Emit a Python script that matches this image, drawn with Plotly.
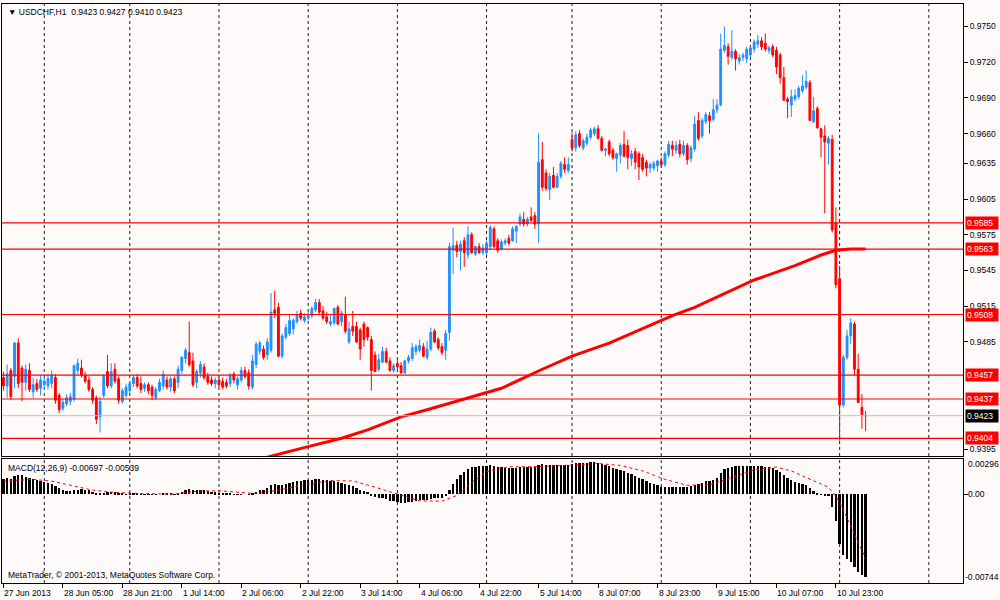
import plotly.graph_objects as go

# USDCHF H1, 27 Jun 2013 13:00 .. 11 Jul 2013 07:00 (bar index 0..232)
opens = [
    0.9455, 0.9448, 0.9461, 0.9456, 0.9484, 0.9463, 0.9451, 0.9461, 0.9443, 0.9450,
    0.9446, 0.9449, 0.9448, 0.9450, 0.9455, 0.9440, 0.9429, 0.9433, 0.9435, 0.9437,
    0.9461, 0.9463, 0.9457, 0.9453, 0.9445, 0.9438, 0.9422, 0.9440, 0.9460, 0.9448,
    0.9462, 0.9454, 0.9435, 0.9440, 0.9444, 0.9450, 0.9455, 0.9450, 0.9446, 0.9449,
    0.9447, 0.9438, 0.9444, 0.9448, 0.9453, 0.9447, 0.9454, 0.9451, 0.9461, 0.9471,
    0.9476, 0.9469, 0.9451, 0.9459, 0.9464, 0.9456, 0.9453, 0.9450, 0.9453, 0.9452,
    0.9451, 0.9450, 0.9458, 0.9449, 0.9453, 0.9461, 0.9459, 0.9447, 0.9466, 0.9477,
    0.9479, 0.9474, 0.9478, 0.9512, 0.9514, 0.9473, 0.9489, 0.9492, 0.9496, 0.9502,
    0.9509, 0.9503, 0.9505, 0.9507, 0.9512, 0.9518, 0.9511, 0.9506, 0.9500, 0.9501,
    0.9514, 0.9502, 0.9508, 0.9485, 0.9498, 0.9498, 0.9495, 0.9500, 0.9497, 0.9487,
    0.9474, 0.9462, 0.9468, 0.9477, 0.9469, 0.9461, 0.9467, 0.9465, 0.9459, 0.9469,
    0.9471, 0.9477, 0.9478, 0.9481, 0.9472, 0.9479, 0.9494, 0.9487, 0.9481, 0.9478,
    0.9493, 0.9562, 0.9566, 0.9561, 0.9570, 0.9558, 0.9575, 0.9559, 0.9565, 0.9560,
    0.9560, 0.9565, 0.9580, 0.9570, 0.9563, 0.9568, 0.9572, 0.9570, 0.9578, 0.9584,
    0.9588, 0.9584, 0.9590, 0.9591, 0.9584, 0.9638, 0.9627, 0.9613, 0.9625, 0.9615,
    0.9624, 0.9634, 0.9629, 0.9655, 0.9648, 0.9660, 0.9648, 0.9652, 0.9657, 0.9660,
    0.9664, 0.9656, 0.9646, 0.9653, 0.9646, 0.9639, 0.9642, 0.9651, 0.9650, 0.9639,
    0.9645, 0.9643, 0.9640, 0.9636, 0.9631, 0.9631, 0.9633, 0.9637, 0.9634, 0.9642,
    0.9650, 0.9646, 0.9651, 0.9643, 0.9650, 0.9639, 0.9647, 0.9671, 0.9658, 0.9670,
    0.9675, 0.9672, 0.9680, 0.9684, 0.9730, 0.9733, 0.9724, 0.9729, 0.9721, 0.9724,
    0.9723, 0.9726, 0.9731, 0.9735, 0.9738, 0.9736, 0.9730, 0.9733, 0.9730, 0.9726,
    0.9707, 0.9689, 0.9684, 0.9689, 0.9691, 0.9696, 0.9699, 0.9703, 0.9670, 0.9681,
    0.9664, 0.9658, 0.9652, 0.9655, 0.9585, 0.9538, 0.9432, 0.9472, 0.9490, 0.9500,
    0.9462, 0.9430, 0.9423,
]
highs = [
    0.9460, 0.9466, 0.9463, 0.9485, 0.9488, 0.9465, 0.9466, 0.9467, 0.9455, 0.9454,
    0.9457, 0.9456, 0.9458, 0.9461, 0.9458, 0.9442, 0.9437, 0.9441, 0.9442, 0.9466,
    0.9471, 0.9470, 0.9460, 0.9456, 0.9447, 0.9440, 0.9439, 0.9458, 0.9474, 0.9467,
    0.9467, 0.9456, 0.9446, 0.9450, 0.9452, 0.9457, 0.9458, 0.9456, 0.9451, 0.9451,
    0.9449, 0.9447, 0.9454, 0.9461, 0.9456, 0.9456, 0.9456, 0.9465, 0.9473, 0.9480,
    0.9502, 0.9476, 0.9462, 0.9469, 0.9467, 0.9459, 0.9456, 0.9455, 0.9456, 0.9455,
    0.9454, 0.9459, 0.9460, 0.9456, 0.9464, 0.9464, 0.9462, 0.9474, 0.9485, 0.9486,
    0.9482, 0.9488, 0.9526, 0.9528, 0.9518, 0.9492, 0.9500, 0.9508, 0.9505, 0.9511,
    0.9512, 0.9509, 0.9510, 0.9515, 0.9521, 0.9521, 0.9515, 0.9510, 0.9508, 0.9514,
    0.9516, 0.9511, 0.9523, 0.9502, 0.9511, 0.9502, 0.9497, 0.9502, 0.9498, 0.9490,
    0.9477, 0.9475, 0.9481, 0.9480, 0.9472, 0.9467, 0.9470, 0.9468, 0.9470, 0.9474,
    0.9484, 0.9483, 0.9487, 0.9484, 0.9486, 0.9497, 0.9496, 0.9489, 0.9484, 0.9495,
    0.9568, 0.9581, 0.9570, 0.9570, 0.9573, 0.9582, 0.9577, 0.9566, 0.9568, 0.9567,
    0.9570, 0.9583, 0.9582, 0.9572, 0.9571, 0.9572, 0.9575, 0.9582, 0.9583, 0.9593,
    0.9594, 0.9590, 0.9598, 0.9594, 0.9660, 0.9653, 0.9630, 0.9627, 0.9632, 0.9627,
    0.9637, 0.9640, 0.9640, 0.9661, 0.9662, 0.9663, 0.9656, 0.9660, 0.9665, 0.9666,
    0.9667, 0.9658, 0.9648, 0.9655, 0.9648, 0.9644, 0.9652, 0.9662, 0.9655, 0.9646,
    0.9648, 0.9645, 0.9643, 0.9638, 0.9636, 0.9637, 0.9638, 0.9640, 0.9645, 0.9654,
    0.9654, 0.9654, 0.9655, 0.9654, 0.9652, 0.9650, 0.9675, 0.9678, 0.9673, 0.9678,
    0.9678, 0.9689, 0.9689, 0.9744, 0.9750, 0.9736, 0.9747, 0.9731, 0.9727, 0.9728,
    0.9733, 0.9733, 0.9739, 0.9743, 0.9741, 0.9744, 0.9734, 0.9735, 0.9733, 0.9728,
    0.9716, 0.9691, 0.9697, 0.9697, 0.9700, 0.9709, 0.9713, 0.9705, 0.9691, 0.9683,
    0.9665, 0.9667, 0.9658, 0.9659, 0.9598, 0.9549, 0.9474, 0.9495, 0.9505, 0.9502,
    0.9475, 0.9441, 0.9427,
]
lows = [
    0.9444, 0.9438, 0.9436, 0.9446, 0.9446, 0.9435, 0.9444, 0.9443, 0.9438, 0.9443,
    0.9440, 0.9445, 0.9445, 0.9446, 0.9433, 0.9425, 0.9427, 0.9431, 0.9432, 0.9435,
    0.9458, 0.9455, 0.9450, 0.9443, 0.9433, 0.9416, 0.9409, 0.9438, 0.9446, 0.9446,
    0.9450, 0.9433, 0.9433, 0.9438, 0.9442, 0.9447, 0.9446, 0.9442, 0.9443, 0.9441,
    0.9436, 0.9436, 0.9443, 0.9445, 0.9445, 0.9443, 0.9442, 0.9446, 0.9458, 0.9467,
    0.9464, 0.9447, 0.9446, 0.9455, 0.9453, 0.9449, 0.9448, 0.9446, 0.9447, 0.9445,
    0.9446, 0.9447, 0.9450, 0.9445, 0.9451, 0.9454, 0.9445, 0.9445, 0.9463, 0.9474,
    0.9470, 0.9470, 0.9476, 0.9505, 0.9472, 0.9471, 0.9487, 0.9490, 0.9491, 0.9500,
    0.9503, 0.9501, 0.9503, 0.9505, 0.9510, 0.9508, 0.9503, 0.9500, 0.9498, 0.9499,
    0.9499, 0.9498, 0.9492, 0.9483, 0.9490, 0.9484, 0.9470, 0.9481, 0.9486, 0.9444,
    0.9460, 0.9460, 0.9467, 0.9467, 0.9460, 0.9459, 0.9462, 0.9458, 0.9458, 0.9467,
    0.9469, 0.9474, 0.9476, 0.9472, 0.9470, 0.9477, 0.9484, 0.9478, 0.9474, 0.9470,
    0.9486, 0.9542, 0.9556, 0.9545, 0.9548, 0.9555, 0.9559, 0.9557, 0.9559, 0.9558,
    0.9558, 0.9562, 0.9564, 0.9560, 0.9562, 0.9566, 0.9566, 0.9569, 0.9568, 0.9582,
    0.9582, 0.9582, 0.9586, 0.9580, 0.9568, 0.9612, 0.9612, 0.9604, 0.9614, 0.9614,
    0.9622, 0.9627, 0.9627, 0.9645, 0.9645, 0.9648, 0.9646, 0.9650, 0.9655, 0.9658,
    0.9655, 0.9645, 0.9641, 0.9641, 0.9638, 0.9628, 0.9635, 0.9640, 0.9630, 0.9633,
    0.9630, 0.9621, 0.9628, 0.9624, 0.9627, 0.9629, 0.9628, 0.9632, 0.9632, 0.9640,
    0.9641, 0.9643, 0.9640, 0.9641, 0.9634, 0.9636, 0.9645, 0.9654, 0.9656, 0.9668,
    0.9660, 0.9670, 0.9677, 0.9683, 0.9728, 0.9718, 0.9722, 0.9713, 0.9718, 0.9721,
    0.9719, 0.9724, 0.9728, 0.9732, 0.9730, 0.9729, 0.9727, 0.9724, 0.9710, 0.9702,
    0.9688, 0.9673, 0.9674, 0.9687, 0.9689, 0.9694, 0.9697, 0.9671, 0.9669, 0.9664,
    0.9640, 0.9593, 0.9634, 0.9577, 0.9530, 0.9402, 0.9430, 0.9470, 0.9483, 0.9457,
    0.9434, 0.9412, 0.9410,
]
closes = [
    0.9448, 0.9458, 0.9439, 0.9484, 0.9450, 0.9451, 0.9462, 0.9445, 0.9449, 0.9445,
    0.9453, 0.9452, 0.9454, 0.9457, 0.9436, 0.9428, 0.9434, 0.9438, 0.9439, 0.9465,
    0.9467, 0.9457, 0.9452, 0.9445, 0.9436, 0.9420, 0.9435, 0.9456, 0.9448, 0.9460,
    0.9452, 0.9436, 0.9444, 0.9447, 0.9450, 0.9455, 0.9448, 0.9445, 0.9449, 0.9444,
    0.9440, 0.9445, 0.9451, 0.9458, 0.9447, 0.9454, 0.9444, 0.9462, 0.9472, 0.9478,
    0.9466, 0.9449, 0.9460, 0.9466, 0.9455, 0.9451, 0.9450, 0.9453, 0.9449, 0.9447,
    0.9448, 0.9457, 0.9453, 0.9454, 0.9461, 0.9456, 0.9448, 0.9469, 0.9483, 0.9484,
    0.9472, 0.9485, 0.9510, 0.9509, 0.9473, 0.9490, 0.9497, 0.9503, 0.9503, 0.9508,
    0.9505, 0.9506, 0.9507, 0.9513, 0.9518, 0.9510, 0.9505, 0.9502, 0.9502, 0.9513,
    0.9500, 0.9509, 0.9494, 0.9496, 0.9494, 0.9485, 0.9479, 0.9487, 0.9489, 0.9461,
    0.9460, 0.9470, 0.9477, 0.9468, 0.9461, 0.9465, 0.9464, 0.9459, 0.9469, 0.9472,
    0.9480, 0.9481, 0.9482, 0.9473, 0.9479, 0.9493, 0.9485, 0.9480, 0.9476, 0.9492,
    0.9565, 0.9566, 0.9561, 0.9567, 0.9560, 0.9575, 0.9560, 0.9565, 0.9560, 0.9564,
    0.9568, 0.9581, 0.9565, 0.9562, 0.9569, 0.9570, 0.9568, 0.9580, 0.9582, 0.9590,
    0.9584, 0.9588, 0.9587, 0.9584, 0.9636, 0.9615, 0.9614, 0.9624, 0.9615, 0.9624,
    0.9635, 0.9630, 0.9634, 0.9648, 0.9659, 0.9650, 0.9654, 0.9657, 0.9663, 0.9664,
    0.9656, 0.9646, 0.9647, 0.9643, 0.9640, 0.9643, 0.9650, 0.9641, 0.9640, 0.9643,
    0.9636, 0.9632, 0.9630, 0.9631, 0.9634, 0.9635, 0.9637, 0.9634, 0.9643, 0.9651,
    0.9647, 0.9650, 0.9643, 0.9650, 0.9638, 0.9648, 0.9668, 0.9656, 0.9671, 0.9676,
    0.9671, 0.9680, 0.9684, 0.9731, 0.9734, 0.9725, 0.9729, 0.9723, 0.9724, 0.9726,
    0.9731, 0.9732, 0.9737, 0.9738, 0.9733, 0.9731, 0.9732, 0.9726, 0.9716, 0.9707,
    0.9688, 0.9687, 0.9691, 0.9692, 0.9698, 0.9700, 0.9704, 0.9671, 0.9679, 0.9665,
    0.9657, 0.9653, 0.9656, 0.9579, 0.9533, 0.9432, 0.9472, 0.9490, 0.9501, 0.9462,
    0.9434, 0.9424, 0.9423,
]

# moving average (red line), read at bar positions
ma_idx = [66, 72, 82, 91, 98, 107, 114, 122, 134, 145, 153, 163, 172, 180, 186,
          195, 202, 213, 220, 224, 228, 232]
ma_val = [0.9383, 0.9389, 0.9397, 0.9404, 0.9411, 0.9422, 0.9428, 0.9435, 0.9446,
          0.9462, 0.9473, 0.9484, 0.9496, 0.9507, 0.9514, 0.9527, 0.9537, 0.9549,
          0.9558, 0.9562, 0.9563, 0.9563]

# MACD(12,26,9) histogram, one value per bar
macd = [
    0.00125, 0.00135, 0.00130, 0.00150, 0.00163, 0.00158, 0.00148, 0.00140, 0.00128, 0.00118,
    0.00110, 0.00102, 0.00092, 0.00085, 0.00070, 0.00050, 0.00038, 0.00030, 0.00028, 0.00032,
    0.00040, 0.00042, 0.00040, 0.00034, 0.00022, 0.00008, 0.00004, 0.00010, 0.00016, 0.00018,
    0.00016, 0.00008, 0.00004, 0.00002, 0.00003, 0.00005, 0.00004, 0.00002, 0.00001, -0.00002,
    -0.00004, -0.00003, 0.00000, 0.00004, 0.00003, 0.00005, 0.00002, 0.00010, 0.00022, 0.00036,
    0.00046, 0.00040, 0.00038, 0.00036, 0.00032, 0.00026, 0.00020, 0.00016, 0.00012, 0.00008,
    0.00004, 0.00004, 0.00002, -0.00001, 0.00002, 0.00000, -0.00003, 0.00006, 0.00022, 0.00034,
    0.00040, 0.00052, 0.00080, 0.00090, 0.00078, 0.00082, 0.00088, 0.00096, 0.00102, 0.00110,
    0.00114, 0.00116, 0.00118, 0.00122, 0.00128, 0.00126, 0.00122, 0.00116, 0.00110, 0.00108,
    0.00100, 0.00098, 0.00090, 0.00078, 0.00068, 0.00056, 0.00040, 0.00028, 0.00018, -0.00008,
    -0.00022, -0.00030, -0.00034, -0.00042, -0.00052, -0.00058, -0.00064, -0.00072, -0.00070, -0.00068,
    -0.00062, -0.00056, -0.00050, -0.00048, -0.00044, -0.00036, -0.00030, -0.00030, -0.00030, -0.00018,
    0.00040, 0.00090, 0.00130, 0.00165, 0.00190, 0.00215, 0.00225, 0.00232, 0.00235, 0.00235,
    0.00238, 0.00242, 0.00238, 0.00232, 0.00228, 0.00224, 0.00220, 0.00222, 0.00224, 0.00228,
    0.00230, 0.00230, 0.00232, 0.00230, 0.00248, 0.00250, 0.00248, 0.00246, 0.00244, 0.00242,
    0.00246, 0.00246, 0.00248, 0.00256, 0.00262, 0.00262, 0.00262, 0.00264, 0.00268, 0.00270,
    0.00266, 0.00256, 0.00246, 0.00236, 0.00224, 0.00212, 0.00204, 0.00192, 0.00180, 0.00168,
    0.00154, 0.00140, 0.00126, 0.00114, 0.00096, 0.00084, 0.00074, 0.00064, 0.00060, 0.00060,
    0.00062, 0.00064, 0.00062, 0.00064, 0.00062, 0.00066, 0.00080, 0.00086, 0.00096, 0.00108,
    0.00114, 0.00124, 0.00134, 0.00178, 0.00210, 0.00222, 0.00232, 0.00236, 0.00236, 0.00236,
    0.00238, 0.00238, 0.00240, 0.00240, 0.00236, 0.00232, 0.00226, 0.00218, 0.00204, 0.00186,
    0.00158, 0.00136, 0.00118, 0.00104, 0.00094, 0.00086, 0.00080, 0.00050, 0.00030, 0.00010,
    -0.00002, -0.00010, -0.00016, -0.00110, -0.00220, -0.00420, -0.00510, -0.00540, -0.00570, -0.00610,
    -0.00650, -0.00680, -0.00697,
]
# signal line, read at bar positions
sig_idx = [0, 8, 13, 18, 24, 30, 38, 46, 52, 58, 64, 68, 74, 80, 88, 94, 100, 106,
           112, 118, 122, 126, 130, 136, 144, 152, 160, 166, 172, 178, 184, 190, 196,
           202, 208, 212, 216, 220, 222, 224, 225, 226, 228, 230, 232]
sig_val = [0.00110, 0.00125, 0.00110, 0.00075, 0.00035, 0.00015, 0.00005, 0.00002,
           0.00025, 0.00030, 0.00012, 0.00005, 0.00035, 0.00075, 0.00115, 0.00112,
           0.00060, 0.00000, -0.00055, -0.00058, -0.00010, 0.00100, 0.00190, 0.00230,
           0.00232, 0.00244, 0.00258, 0.00242, 0.00196, 0.00125, 0.00075, 0.00080,
           0.00140, 0.00205, 0.00228, 0.00196, 0.00140, 0.00085, 0.00060, -0.00020,
           -0.00064, -0.00130, -0.00270, -0.00410, -0.00539]

# horizontal levels, bid line, axis ticks
level_vals = [0.9585, 0.9563, 0.9508, 0.9457, 0.9437, 0.9404]
bid_val = 0.9423
price_ticks = [0.9750, 0.9720, 0.9690, 0.9660, 0.9635, 0.9605, 0.9575, 0.9545,
               0.9515, 0.9485, 0.9395]
macd_ticks = [0.00296, 0.0, -0.00744]
macd_tick_text = ["0.00296", "0.00", "-0.00744"]

# time labels (every 16 bars) and day separators
xlab_idx = [0, 16, 32, 48, 64, 80, 96, 112, 128, 144, 160, 176, 192, 208, 224]
xlab_text = ["27 Jun 2013", "28 Jun 05:00", "28 Jun 21:00", "1 Jul 14:00", "2 Jul 06:00",
             "2 Jul 22:00", "3 Jul 14:00", "4 Jul 06:00", "4 Jul 22:00", "5 Jul 14:00",
             "8 Jul 07:00", "8 Jul 23:00", "9 Jul 15:00", "10 Jul 07:00", "10 Jul 23:00"]
day_idx = [11, 34, 58, 82, 106, 130, 153, 177, 201, 225, 249]

BG = "#FFFAFA"
FONT = "Liberation Sans, Arial, sans-serif"
BLUE = "#1E90FF"
RED = "#FF0000"

bars = list(range(len(closes)))

fig = go.Figure()

fig.add_trace(go.Candlestick(
    x=bars, open=opens, high=highs, low=lows, close=closes,
    increasing=dict(line=dict(color=BLUE, width=1), fillcolor=BLUE),
    decreasing=dict(line=dict(color=RED, width=1), fillcolor=RED),
    whiskerwidth=0, hoverinfo="skip", xaxis="x", yaxis="y", showlegend=False,
))
fig.add_trace(go.Scatter(
    x=ma_idx, y=ma_val, mode="lines", line=dict(color=RED, width=3),
    hoverinfo="skip", xaxis="x", yaxis="y", showlegend=False,
))
fig.add_trace(go.Bar(
    x=bars, y=macd, width=0.62, marker=dict(color="black", line=dict(width=0)),
    hoverinfo="skip", xaxis="x2", yaxis="y2", showlegend=False,
))
fig.add_trace(go.Scatter(
    x=sig_idx, y=sig_val, mode="lines", line=dict(color=RED, width=1, dash="dot"),
    hoverinfo="skip", xaxis="x2", yaxis="y2", showlegend=False,
))

shapes = []
for d in day_idx:
    for xr, yr in (("x", "y domain"), ("x2", "y2 domain")):
        shapes.append(dict(type="line", xref=xr, yref=yr, x0=d, x1=d, y0=0, y1=1,
                           line=dict(color="#202020", width=1, dash="dot"), layer="below"))
for v in level_vals:
    shapes.append(dict(type="line", xref="x domain", yref="y", x0=0, x1=1, y0=v, y1=v,
                       line=dict(color=RED, width=1.2)))
shapes.append(dict(type="line", xref="x domain", yref="y", x0=0, x1=1, y0=bid_val, y1=bid_val,
                   line=dict(color="#C0C0C0", width=1)))

small = dict(family=FONT, size=8.5, color="black")
annotations = []
for v in level_vals:
    annotations.append(dict(text=f"{v:.4f}", xref="paper", x=1, xanchor="left", xshift=2,
                            yref="y", y=v, yanchor="middle", showarrow=False,
                            font=dict(family=FONT, size=8.5, color="white"),
                            bgcolor=RED, borderpad=1, width=30, align="left"))
annotations.append(dict(text=f"{bid_val:.4f}", xref="paper", x=1, xanchor="left", xshift=2,
                        yref="y", y=bid_val, yanchor="middle", showarrow=False,
                        font=dict(family=FONT, size=8.5, color="white"),
                        bgcolor="black", borderpad=1, width=30, align="left"))
for v, t, ys, xs in zip(macd_ticks, macd_tick_text, (-5, 0, 6), (3, 3, 0)):
    annotations.append(dict(text=t, xref="paper", x=1, xanchor="left", xshift=xs,
                            yref="y2", y=v, yanchor="middle", yshift=ys, showarrow=False,
                            font=small))
for i, t in zip(xlab_idx, xlab_text):
    annotations.append(dict(text=t, xref="x2", x=i, xanchor="left", xshift=-1,
                            yref="paper", y=0, yanchor="top", yshift=-3, showarrow=False,
                            font=small))
annotations.append(dict(text="▼ USDCHF,H1  0.9423 0.9427 0.9410 0.9423",
                        xref="paper", x=0, xanchor="left", xshift=4,
                        yref="paper", y=1, yanchor="top", yshift=-1,
                        showarrow=False, font=small))
annotations.append(dict(text="MACD(12,26,9) -0.00697 -0.00539",
                        xref="paper", x=0, xanchor="left", xshift=4,
                        yref="y2 domain", y=1, yanchor="top", yshift=-2,
                        showarrow=False, font=small))
annotations.append(dict(text="MetaTrader, © 2001-2013, MetaQuotes Software Corp.",
                        xref="paper", x=0, xanchor="left", xshift=4,
                        yref="y2 domain", y=0, yanchor="bottom", yshift=1,
                        showarrow=False, font=small))

x_range = [-0.38, 258.2]
axis_line = dict(showline=True, linecolor="black", linewidth=1, mirror=True,
                 showgrid=False, zeroline=False)

fig.update_layout(
    width=1000, height=600,
    margin=dict(l=2, r=37, t=4, b=17),
    paper_bgcolor=BG, plot_bgcolor=BG,
    font=small,
    showlegend=False,
    bargap=0,
    shapes=shapes,
    annotations=annotations,
    xaxis=dict(domain=[0, 1], anchor="y", range=x_range, showticklabels=False, ticks="",
               rangeslider=dict(visible=False), **axis_line),
    yaxis=dict(domain=[0.2193, 1], anchor="x", side="right", range=[0.93891, 0.97689],
               tickvals=price_ticks, ticktext=[f"{v:.4f}" for v in price_ticks],
               ticks="outside", ticklen=4, tickcolor="black", tickfont=small, **axis_line),
    xaxis2=dict(domain=[0, 1], anchor="y2", range=x_range, showticklabels=False,
                tickvals=xlab_idx, ticks="outside", ticklen=4, tickcolor="black", **axis_line),
    yaxis2=dict(domain=[0, 0.2142], anchor="x2", side="right", range=[-0.00744, 0.00296],
                tickvals=[0.0], showticklabels=False, ticks="outside", ticklen=4,
                tickcolor="black", **axis_line),
)

# the page's default body margin would push the 1000x600 chart off the window
fig.write_html("out.html", config={"displayModeBar": False},
               post_script="document.body.style.margin='0';document.body.style.overflow='hidden';")
